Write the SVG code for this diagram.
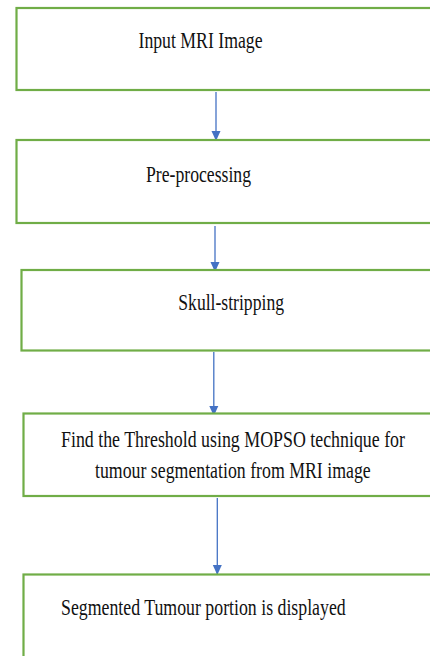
<svg xmlns="http://www.w3.org/2000/svg" width="430" height="656" viewBox="0 0 430 656">
<style>
.box{fill:#fff;stroke:#70AD47;stroke-width:2.2}
.lbl{font-family:"Liberation Serif","Times New Roman",serif;font-size:23.5px;fill:#111}
.con{stroke:#4472C4;stroke-width:1.3;fill:none}
</style>
<defs>
<marker id="arr" markerUnits="userSpaceOnUse" markerWidth="10" markerHeight="10" refX="10" refY="4.5" orient="auto" viewBox="0 0 10 9">
<path d="M0,0 L10,4.5 L0,9 Z" fill="#4472C4"/>
</marker>
</defs>
<rect width="430" height="656" fill="#fff"/>
<g id="connectors">
<line class="con" x1="216" y1="92" x2="216" y2="141" marker-end="url(#arr)"/>
<line class="con" x1="215" y1="226" x2="215" y2="272" marker-end="url(#arr)"/>
<line class="con" x1="213.8" y1="352" x2="213.8" y2="416" marker-end="url(#arr)"/>
<line class="con" x1="217.3" y1="498" x2="217.3" y2="575" marker-end="url(#arr)"/>
</g>
<g id="n1">
<rect class="box" x="16.5" y="8" width="430" height="82"/>
<text class="lbl" x="138.5" y="48.3" textLength="124" lengthAdjust="spacingAndGlyphs">Input MRI Image</text>
</g>
<g id="n2">
<rect class="box" x="16.5" y="140" width="430" height="83"/>
<text class="lbl" x="146" y="181.7" textLength="105" lengthAdjust="spacingAndGlyphs">Pre-processing</text>
</g>
<g id="n3">
<rect class="box" x="21.5" y="270" width="430" height="80.5"/>
<text class="lbl" x="178.3" y="310" textLength="105.7" lengthAdjust="spacingAndGlyphs">Skull-stripping</text>
</g>
<g id="n4">
<rect class="box" x="23.5" y="413.5" width="430" height="82.5"/>
<text class="lbl" x="61" y="447.3" textLength="344" lengthAdjust="spacingAndGlyphs">Find the Threshold using MOPSO technique for</text>
<text class="lbl" x="95" y="478.3" textLength="275.7" lengthAdjust="spacingAndGlyphs">tumour segmentation from MRI image</text>
</g>
<g id="n5">
<rect class="box" x="23.5" y="574.5" width="430" height="100"/>
<text class="lbl" x="61" y="615" textLength="284.7" lengthAdjust="spacingAndGlyphs">Segmented Tumour portion is displayed</text>
</g>
</svg>
